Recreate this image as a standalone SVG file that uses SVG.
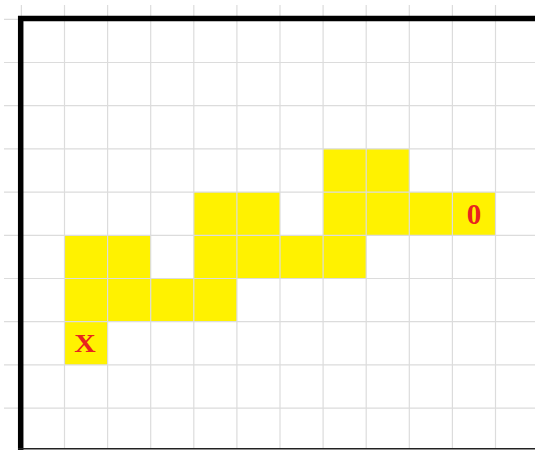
<svg xmlns="http://www.w3.org/2000/svg" width="535" height="450" viewBox="0 0 535 450">
<style>
.c{fill:#fff200}
.g{stroke:#dcdcdc;stroke-width:1.2;fill:none}
.ax{stroke:#000;stroke-width:5.5;fill:none}
.t{font-family:"Liberation Serif",serif;font-weight:bold;fill:#e8231f;text-anchor:middle}
</style>
<rect width="535" height="450" fill="#fff"/>
<g id="cells">
<rect class="c" x="323.1" y="148.9" width="86.2" height="43.2"/>
<rect class="c" x="193.8" y="192.1" width="86.2" height="43.2"/>
<rect class="c" x="323.1" y="192.1" width="172.4" height="43.2"/>
<rect class="c" x="64.5" y="235.3" width="86.2" height="43.2"/>
<rect class="c" x="193.8" y="235.3" width="172.4" height="43.2"/>
<rect class="c" x="64.5" y="278.5" width="172.4" height="43.2"/>
<rect class="c" x="64.5" y="321.7" width="43.1" height="43.2"/>
</g>
<g id="grid" class="g">
<path d="M21.4 5V448M64.5 5V448M107.6 5V448M150.7 5V448M193.8 5V448M236.9 5V448M280 5V448M323.1 5V448M366.2 5V448M409.3 5V448M452.4 5V448M495.5 5V448"/>
<path d="M4 19.3H535M4 62.5H535M4 105.7H535M4 148.9H535M4 192.1H535M4 235.3H535M4 278.5H535M4 321.7H535M4 364.9H535M4 408.1H535"/>
</g>
<g id="axes">
<path class="ax" d="M20.7 450V18.6H535"/>
<path d="M18 448.8H535" stroke="#222" stroke-width="1.6" fill="none"/>
</g>
<g id="labels">
<text class="t" x="85" y="352" font-size="26" textLength="21.5" lengthAdjust="spacingAndGlyphs">X</text>
<text class="t" x="474" y="224" font-size="29">0</text>
</g>
</svg>
